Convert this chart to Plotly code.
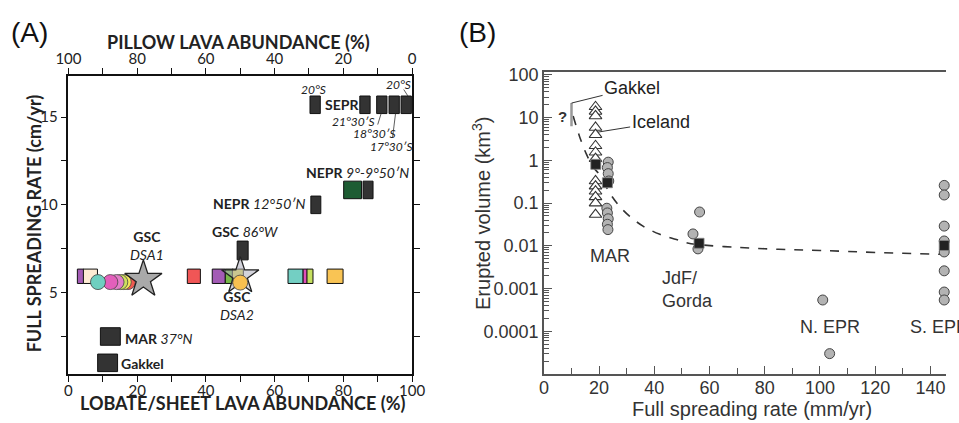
import math
import plotly.graph_objects as go

W, H = 959, 423

# ---------------- Panel A data ----------------
sepr_x = [71.8, 86.3, 91.2, 94.8, 98.3]
sepr_y = [15.7, 15.7, 15.7, 15.7, 15.7]
nepr9_x = [82.7, 87.2]
nepr9_y = [10.85, 10.85]
nepr12_x = [72.0]
nepr12_y = [10.0]
gsc86_x = [50.7]
gsc86_y = [7.4]
mar37_x = [12.2]
mar37_y = [2.5]
gakkelA_x = [11.4]
gakkelA_y = [1.0]

row_rect_x = [3.55, 6.4, 36.5, 43.75, 46.8, 49.3, 66.1, 68.9, 70.3, 77.6]
row_rect_y = [5.93, 5.93, 5.93, 5.93, 5.93, 5.93, 5.93, 5.93, 5.93, 5.93]
row_circ_x = [17.3, 16.1, 15.1, 14.0, 12.2, 8.6, 50.0]
row_circ_y = [5.6, 5.6, 5.6, 5.6, 5.6, 5.6, 5.57]
star_x = [21.8, 50.0]
star_y = [5.75, 5.95]

# ---------------- Panel B data ----------------
tri_x = [18.7] * 14
tri_y = [18, 14, 11, 5.9, 4.0, 2.2, 1.55, 1.1, 0.33, 0.25, 0.19, 0.14, 0.10, 0.054]
circ_x = [23.3, 23.0, 23.3, 23.5, 22.8, 23.0, 23.3, 23.0, 23.2,
          56.4, 54.0, 55.8,
          101.0, 103.5,
          145, 145, 145, 145, 145, 145, 145, 145]
circ_y = [0.91, 0.68, 0.49, 0.33, 0.076, 0.059, 0.043, 0.032, 0.024,
          0.062, 0.019, 0.0085,
          0.00054, 0.00003,
          0.26, 0.155, 0.029, 0.013, 0.0072, 0.0026, 0.00083, 0.00054]
sq_x = [18.8, 23.0, 56.2, 145.0]
sq_y = [0.81, 0.30, 0.0115, 0.0102]
fit_x = [10.6, 13, 15.4, 17.8, 20.3, 23.9, 27.5, 31.1, 35.9, 42, 48, 52, 56,
         70, 85, 100, 120, 145, 150.3]
fit_y = [11, 3.5, 1.4, 0.71, 0.45, 0.17, 0.083, 0.049, 0.029, 0.0186, 0.0141,
         0.0117, 0.0107, 0.0092, 0.0083, 0.0078, 0.0070, 0.0063, 0.0062]
gak_x = [10, 10]
gak_y = [6.3, 22]

yB_vals = [0.0001, 0.001, 0.01, 0.1, 1, 10, 100]
yB_text = ["0.0001", "0.001", "0.01", "0.1", "1", "10", "100"]

# ---------------- styles ----------------
DARK = "#333333"
FA = "Lato"
FB = "Liberation Sans"
row_rect_col = ["#a35bb5", "#fdebd3", "#f05656", "#a35bb5", "#79b84a",
                "#e8e05a", "#73cfc3", "#e04fb9", "#c5df5f", "#f9c454"]
row_rect_w = [1.9, 4.1, 3.8, 3.8, 2.3, 3.2, 4.4, 1.2, 1.75, 4.65]
row_h = 0.82
row_circ_col = ["#f05a50", "#f4e55c", "#cde15e", "#e27fc8", "#e35fbb",
                "#6fcfc0", "#f8c050"]

# the photographed page comes out slightly squeezed horizontally; place
# everything so that it lands where it sits in the reference
SX, OX = 0.974, 12.5


def X(xr):
    return (xr - OX) / SX


def px(x):
    return min(X(x) / W, 1.0)


def py(y):
    return 1 - y / H


B_XMAX = (OX + SX * W - 544) / 2.764

fig = go.Figure()


def rects(xs, ys, widths, h, colors):
    fig.add_trace(go.Bar(
        x=xs, y=[h] * len(xs), base=[v - h / 2 for v in ys], width=widths,
        marker=dict(color=colors, line=dict(color="#111111", width=1)),
        xaxis="x", yaxis="y", showlegend=False, hoverinfo="skip"))


rects(sepr_x, sepr_y, [3.0] * 5, 1.0, DARK)
rects(nepr9_x, nepr9_y, [5.2, 2.9], 1.0, ["#1d5c33", DARK])
rects(nepr12_x, nepr12_y, [2.9], 1.0, DARK)
rects(gsc86_x, gsc86_y, [3.2], 1.07, DARK)
rects(mar37_x, mar37_y, [5.8], 1.0, DARK)
rects(gakkelA_x, gakkelA_y, [5.8], 1.0, DARK)
rects(row_rect_x, row_rect_y, row_rect_w, row_h, row_rect_col)

fig.add_trace(go.Scatter(
    x=star_x[1:], y=star_y[1:], mode="markers", xaxis="x", yaxis="y",
    marker=dict(symbol="star", size=28, color="rgba(175,175,190,0.55)",
                line=dict(color="#222", width=1.3)),
    showlegend=False, hoverinfo="skip"))
fig.add_trace(go.Scatter(
    x=row_circ_x, y=row_circ_y, mode="markers", xaxis="x", yaxis="y",
    marker=dict(symbol="circle", size=15, color=row_circ_col,
                line=dict(color="#444", width=0.8)),
    showlegend=False, hoverinfo="skip"))
fig.add_trace(go.Scatter(
    x=star_x[:1], y=star_y[:1], mode="markers", xaxis="x", yaxis="y",
    marker=dict(symbol="star", size=28, color="#a9a9a9",
                line=dict(color="#222", width=1.3)),
    showlegend=False, hoverinfo="skip"))
fig.add_trace(go.Scatter(x=[None], y=[None], xaxis="x2", yaxis="y",
                         mode="markers", showlegend=False, hoverinfo="skip"))

# ---------------- Panel B traces ----------------
fig.add_trace(go.Scatter(
    x=fit_x, y=fit_y, mode="lines", line=dict(color="#333", width=1.6, dash="dash",
                                               shape="spline"),
    xaxis="x3", yaxis="y3", showlegend=False, hoverinfo="skip"))
fig.add_trace(go.Scatter(
    x=gak_x, y=gak_y, mode="lines", line=dict(color="#999", width=2.5),
    xaxis="x3", yaxis="y3", showlegend=False, hoverinfo="skip"))
fig.add_trace(go.Scatter(
    x=circ_x, y=circ_y, mode="markers", xaxis="x3", yaxis="y3", cliponaxis=False,
    marker=dict(symbol="circle", size=10, color="#b3b3b3",
                line=dict(color="#444", width=1)),
    showlegend=False, hoverinfo="skip"))
fig.add_trace(go.Scatter(
    x=tri_x, y=tri_y, mode="markers", xaxis="x3", yaxis="y3", cliponaxis=False,
    marker=dict(symbol="triangle-up", size=11, color="white",
                line=dict(color="#333", width=1.1)),
    showlegend=False, hoverinfo="skip"))
fig.add_trace(go.Scatter(
    x=sq_x, y=sq_y, mode="markers", xaxis="x3", yaxis="y3", cliponaxis=False,
    marker=dict(symbol="square", size=10, color="#222",
                line=dict(color="#888", width=0.8)),
    showlegend=False, hoverinfo="skip"))

# ---------------- axes ----------------
axA = dict(linecolor="#111", linewidth=1.6, showgrid=False, showline=True,
           zeroline=False, ticks="outside", ticklen=6, tickwidth=1.4,
           tickcolor="#111", tickfont=dict(family=FA, size=15, color="#222"))
minorA = dict(ticks="outside", ticklen=6, tickwidth=1.4, tickcolor="#111")
fig.update_layout(
    width=W, height=H, margin=dict(l=0, r=0, t=0, b=0),
    paper_bgcolor="white", plot_bgcolor="white", barmode="overlay",
    xaxis=dict(axA, domain=[px(68), px(412)], range=[0, 100], tickmode="linear",
               tick0=0, dtick=20, anchor="y", ticklabelstandoff=-4,
               minor=dict(minorA, dtick=10)),
    xaxis2=dict(axA, domain=[px(68), px(412)], range=[100, 0], tickmode="linear",
                tick0=0, dtick=20, overlaying="x", side="top", anchor="y",
                ticklabelstandoff=-2, minor=dict(minorA, dtick=10)),
    yaxis=dict(axA, domain=[py(373), py(71)], range=[0.38, 17.34],
               tickmode="linear", tick0=0, dtick=5, mirror="ticks", anchor="x",
               minor=dict(minorA, dtick=2.5)),
    xaxis3=dict(domain=[px(544), 1.0], range=[0, B_XMAX], dtick=20, tick0=0,
                showline=True, linecolor="#555", linewidth=1.5, mirror=True,
                showgrid=False, zeroline=False, ticks="inside", ticklen=8,
                tickwidth=1.2, tickcolor="#555", anchor="y3",
                ticklabelstandoff=-3,
                tickfont=dict(family=FB, size=18, color="#333"),
                minor=dict(dtick=10, ticks="inside", ticklen=6, tickwidth=1.2,
                           tickcolor="#555")),
    yaxis3=dict(domain=[py(373.3), py(66.5)], type="log", range=[-5, 2.08],
                tickvals=yB_vals, ticktext=yB_text,
                showline=True, linecolor="#555", linewidth=1.5,
                showgrid=False, zeroline=False, ticks="inside", ticklen=8,
                tickwidth=1.2, tickcolor="#555", anchor="x3",
                tickfont=dict(family=FB, size=18, color="#333"),
                minor=dict(dtick="D1", ticks="inside", ticklen=5, tickwidth=1,
                           tickcolor="#555")),
)

# ---------------- annotations ----------------
ann = []


def note(text, x, y, xref="x", yref="y", size=13, family=FA, color="#222",
         xanchor="center", yanchor="middle", align="center", **kw):
    d = dict(text=text, x=x, y=y, xref=xref, yref=yref, showarrow=False,
             font=dict(family=family, size=size, color=color),
             xanchor=xanchor, yanchor=yanchor, align=align)
    d.update(kw)
    ann.append(d)


def leader(text, x, y, xref, yref, ax, ay, size, family, width=0.8):
    ann.append(dict(text=text, x=x, y=y, xref=xref, yref=yref,
                    ax=ax / SX, ay=ay, showarrow=True, arrowhead=0,
                    arrowwidth=width, arrowcolor="#333",
                    font=dict(family=family, size=size, color="#222")))


note("(A)", px(29), py(27), "paper", "paper", size=28, family=FB, color="#111")
note("(B)", px(478), py(27), "paper", "paper", size=28, family=FB, color="#111")
note("<b>PILLOW LAVA ABUNDANCE (%)</b>", px(238), py(37), "paper", "paper",
     size=18, color="#222")
note("<b>LOBATE/SHEET LAVA ABUNDANCE (%)</b>", px(242), py(403), "paper", "paper",
     size=18, color="#222")
note("<b>FULL SPREADING RATE (cm/yr)</b>", px(33), py(220), "paper", "paper",
     size=18, color="#222", textangle=-90)
note("Full spreading rate (mm/yr)", px(752), py(409), "paper", "paper",
     size=20, family=FB, color="#333")
note("Erupted volume (km<sup>3</sup>)", px(481), py(210), "paper", "paper",
     size=20, family=FB, color="#333", textangle=-90)

# Panel A labels
note("<i>20°S</i>", 71.2, 16.56, size=12)
note("<b>SEPR</b>", 74.2, 15.7, size=14, xanchor="left")
note("<i>21°30′S</i>", 83.1, 14.72, size=12)
note("<i>20°S</i>", 96.0, 16.84, size=12)
leader("<i>18°30′S</i>", 91.0, 15.2, "x", "y", -6, 20, 12, FA)
leader("<i>17°30′S</i>", 95.2, 15.2, "x", "y", -4, 33, 12, FA)
leader("", 98.8, 16.2, "x", "y", -5, -8, 12, FA)
note("<b>NEPR</b> <i>9°-9°50′N</i>", 99.6, 11.84, size=14, xanchor="right")
note("<b>NEPR</b> <i>12°50′N</i>", 69.8, 10.06, size=14, xanchor="right")
note("<b>GSC</b> <i>86°W</i>", 41.3, 8.47, size=14, xanchor="left")
note("<b>GSC</b><br><i>DSA1</i>", 23.0, 7.7, size=14)
note("<b>GSC</b><br><i>DSA2</i>", 49.1, 4.28, size=14)
note("<b>MAR</b> <i>37°N</i>", 16.0, 2.4, size=14, xanchor="left")
note("<b>Gakkel</b>", 14.8, 0.94, size=14, xanchor="left")

# Panel B labels
leader("Gakkel", 10, math.log10(22), "x3", "y3", 59, -15, 18, FB, 1)
leader("Iceland", 19.6, math.log10(4.6), "x3", "y3", 61, -10, 18, FB, 1)
note("<b>?</b>", 6.9, math.log10(10.7), "x3", "y3", size=15, family=FB, color="#333")
note("MAR", 23.9, math.log10(0.0059), "x3", "y3", size=18, family=FB, color="#333")
note("JdF/<br>Gorda", 42.0, math.log10(0.00095), "x3", "y3", size=18, family=FB,
     color="#333", xanchor="left", align="left")
note("N. EPR", 103.6, math.log10(0.000129), "x3", "y3", size=18, family=FB,
     color="#333")
note("S. EPR", 131.9, math.log10(0.000129), "x3", "y3", size=18, family=FB,
     color="#333", xanchor="left")

fig.update_layout(annotations=ann)
fig.write_html("out.html", config={"displayModeBar": False},
               post_script="document.body.style.margin='0';"
                           "document.body.style.overflow='hidden';")
